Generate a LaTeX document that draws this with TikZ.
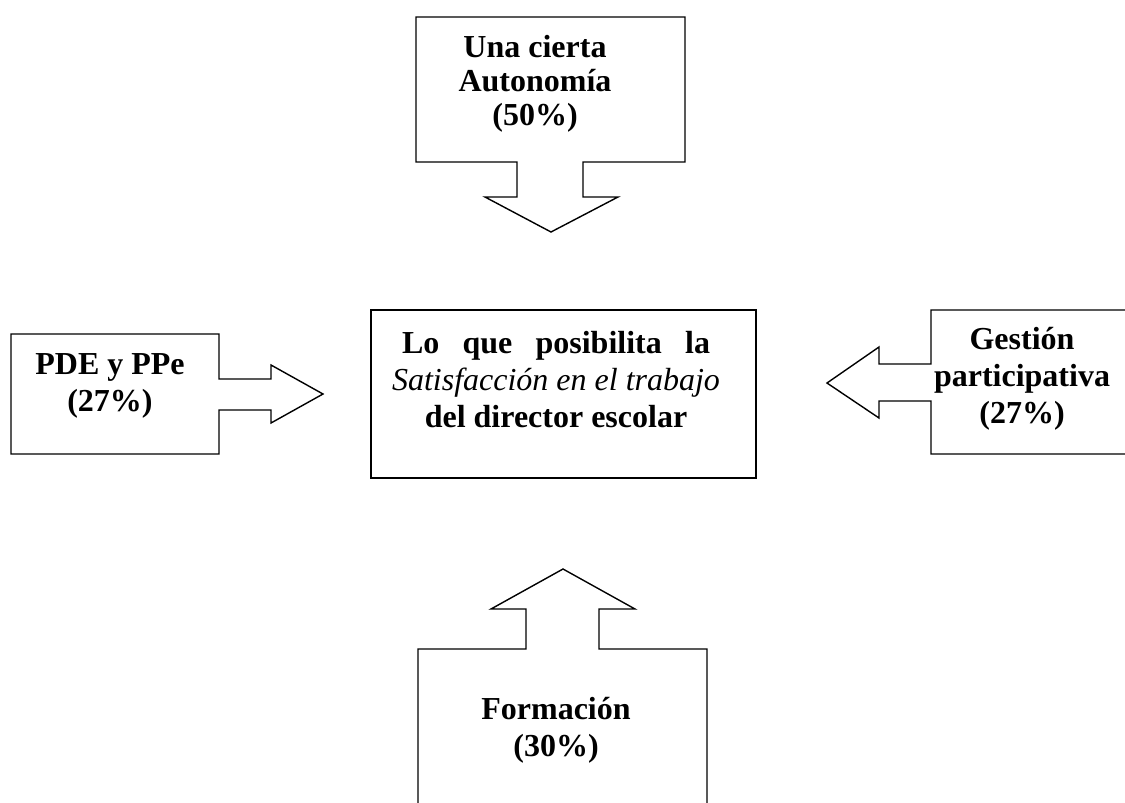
\documentclass[tikz,border=0pt]{standalone}
\usepackage{fontspec}
\setmainfont{Liberation Serif}
\usetikzlibrary{positioning}

\begin{document}
\begin{tikzpicture}[x=0.5pt,y=-0.5pt,
      callout/.style={draw=black,line width=0.7pt,line join=miter},
      boxtext/.style={inner sep=0pt,align=center,font=\bfseries\fontsize{16}{18.5}\selectfont}
      ]
      \useasboundingbox (0,0) rectangle (1125,803);
      % top: Una cierta Autonomia
      \draw[callout] (416,17) -- (685,17) -- (685,162) -- (583,162) -- (583,197) -- (618,197) -- (551,232)
        -- (485,197) -- (517,197) -- (517,162) -- (416,162) -- cycle;
      \node (autonomia) [boxtext,font=\bfseries\fontsize{16}{17}\selectfont] at (535,84) {Una cierta\\Autonom\'ia\\(50\%)};
      % left: PDE y PPe
      \draw[callout] (11,334) -- (219,334) -- (219,379) -- (271,379) -- (271,365) -- (323,394) -- (271,423)
        -- (271,410) -- (219,410) -- (219,454) -- (11,454) -- cycle;
      \node (pde) [boxtext] at (110,386) {PDE y PPe\\(27\%)};
      % centre
      \draw[callout] (371,310) rectangle (756,478);
      \node (centro) [boxtext] at (556,380) {\makebox[154pt][s]{Lo que posibilita la}\\
        {\mdseries\itshape Satisfacci\'on en el trabajo}\\del director escolar};
      % right: Gestion participativa
      \draw[callout] (1125,310) -- (931,310) -- (931,364) -- (879,364) -- (879,347) -- (827,383) -- (879,418)
        -- (879,401) -- (931,401) -- (931,454) -- (1125,454);
      \node (gestion) [boxtext] at (1022,379) {Gesti\'on\\participativa\\(27\%)};
      % bottom: Formacion
      \draw[callout] (418,803) -- (418,649) -- (526,649) -- (526,609) -- (491,609) -- (563,569) -- (635,609)
        -- (599,609) -- (599,649) -- (707,649) -- (707,803);
      \node (formacion) [boxtext] at (556,730) {Formaci\'on\\(30\%)};
    \end{tikzpicture}
\end{document}
